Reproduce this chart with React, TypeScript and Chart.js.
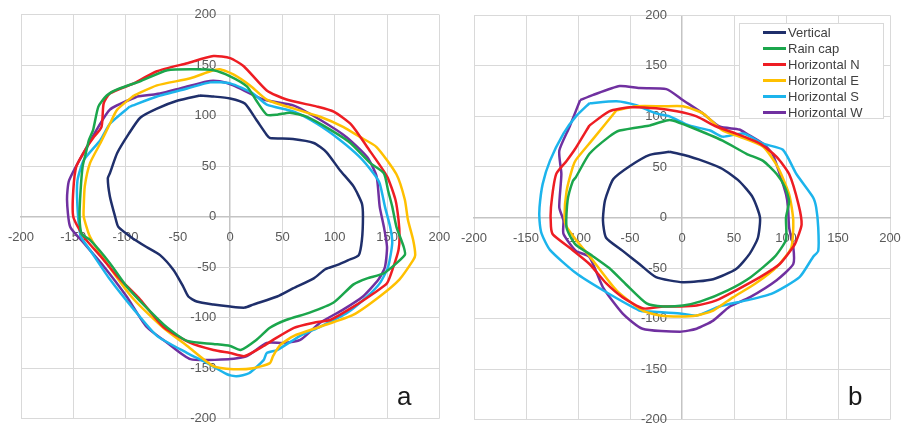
import React, { useEffect, useRef } from 'react';
import { Chart, registerables } from 'chart.js';

Chart.register(...registerables);

const seriesNames = ['Vertical', 'Rain cap', 'Horizontal N', 'Horizontal E', 'Horizontal S', 'Horizontal W'];
const seriesColors = ['#1f2f6b', '#1ba64c', '#ee1d23', '#ffc000', '#1cb4ec', '#7030a0'];

const axisMin = -200;
const axisMax = 200;
const axisStep = 50;

// Panel a
const aVertical = [[-29,120],[-16,119],[0,117],[14,112],[25,96],[35,81],[38,78],[60,77],[80,73],[92,64],[105,46],[118,30],[126,13],[127,0],[126,-23],[123,-38],[113,-43],[102,-48],[91,-52],[80,-61],[60,-71],[45,-79],[22,-87],[14,-90],[0,-89],[-16,-87],[-32,-84],[-40,-79],[-45,-69],[-54,-53],[-67,-38],[-80,-30],[-95,-20],[-107,-10],[-110,0],[-115,20],[-117,38],[-115,43],[-108,63],[-97,82],[-86,98],[-70,107],[-50,115]];
const aRainCap = [[-86,134],[-60,145],[-35,146],[-16,145],[0,139],[16,129],[25,115],[35,101],[45,101],[57,103],[73,99],[96,86],[115,73],[134,53],[147,43],[151,26],[155,10],[159,-10],[166,-30],[167,-38],[147,-56],[131,-61],[118,-67],[99,-85],[76,-95],[54,-102],[38,-110],[25,-122],[10,-132],[0,-128],[-16,-126],[-41,-123],[-60,-110],[-80,-90],[-99,-69],[-115,-46],[-134,-23],[-142,-17],[-144,0],[-143,26],[-141,50],[-138,63],[-135,76],[-131,86],[-126,109],[-118,120],[-108,126]];
const aHorizN = [[-92,132],[-70,144],[-41,152],[-16,159],[0,157],[13,149],[35,125],[54,116],[83,109],[99,104],[116,91],[131,69],[150,40],[158,17],[161,-3],[162,-20],[161,-33],[156,-50],[150,-66],[137,-76],[118,-89],[96,-102],[80,-105],[61,-110],[41,-122],[32,-128],[14,-138],[0,-135],[-16,-132],[-38,-125],[-64,-109],[-86,-82],[-108,-59],[-124,-39],[-140,-20],[-150,0],[-150,26],[-147,50],[-137,69],[-131,78],[-123,89],[-121,112],[-115,122]];
const aHorizE = [[-92,120],[-70,130],[-38,137],[-19,144],[-10,146],[3,141],[19,130],[35,116],[61,107],[86,99],[108,89],[124,79],[140,69],[159,42],[167,17],[170,-3],[175,-23],[177,-38],[175,-43],[162,-62],[143,-79],[118,-97],[86,-109],[61,-118],[48,-127],[41,-138],[38,-145],[22,-150],[3,-151],[-16,-148],[-41,-128],[-64,-110],[-92,-82],[-118,-46],[-134,-20],[-140,0],[-140,10],[-139,30],[-134,53],[-124,73],[-115,92],[-108,106]];
const aHorizS = [[-96,109],[-70,119],[-41,127],[-19,133],[0,132],[22,122],[35,111],[61,104],[83,92],[105,76],[124,59],[137,43],[143,33],[148,10],[153,-10],[155,-26],[151,-50],[143,-66],[131,-79],[112,-95],[86,-109],[67,-118],[45,-132],[35,-135],[32,-142],[18,-155],[6,-158],[-3,-156],[-22,-145],[-41,-135],[-70,-118],[-92,-92],[-115,-62],[-134,-33],[-143,-19],[-146,10],[-146,36],[-140,56],[-124,76],[-115,92]];
const aHorizW = [[-89,119],[-67,122],[-48,127],[-22,134],[-10,134],[3,130],[32,116],[61,110],[86,96],[111,79],[131,59],[140,40],[143,10],[147,-10],[150,-30],[148,-50],[142,-62],[127,-79],[108,-92],[86,-105],[67,-122],[51,-125],[35,-125],[16,-138],[0,-141],[-38,-141],[-60,-125],[-80,-109],[-99,-79],[-121,-49],[-140,-26],[-153,-10],[-156,17],[-154,36],[-137,69],[-115,106]];

// Panel b
const bVertical = [[-12,65],[1,62],[20,56],[39,48],[55,36],[68,20],[75,0],[73,-20],[65,-36],[52,-51],[30,-61],[1,-64],[-25,-59],[-41,-46],[-57,-33],[-73,-20],[-76,-3],[-74,17],[-66,38],[-50,51],[-31,62]];
const bRainCap = [[-31,91],[-15,96],[-9,96],[7,90],[39,76],[62,63],[78,56],[91,43],[99,30],[103,16],[100,0],[100,-22],[89,-39],[66,-59],[44,-72],[18,-83],[1,-87],[-18,-88],[-34,-85],[-54,-66],[-70,-50],[-86,-38],[-103,-26],[-111,-10],[-110,17],[-105,36],[-102,40],[-89,63],[-70,80],[-60,86]];
const bHorizN = [[-89,91],[-70,105],[-50,109],[-25,108],[-5,105],[14,100],[33,90],[52,83],[75,73],[91,60],[103,43],[112,13],[115,-7],[110,-23],[107,-29],[94,-46],[75,-59],[52,-72],[33,-82],[14,-87],[-2,-88],[-18,-88],[-37,-90],[-57,-79],[-73,-65],[-89,-46],[-108,-30],[-124,-17],[-126,-9],[-126,10],[-121,43],[-111,56],[-102,69]];
const bHorizE = [[-63,106],[-44,110],[-18,110],[1,110],[20,103],[39,86],[55,80],[78,70],[92,50],[103,23],[107,-3],[105,-30],[91,-49],[71,-65],[49,-79],[30,-92],[14,-97],[-2,-98],[-21,-97],[-38,-92],[-63,-72],[-86,-42],[-102,-22],[-111,-9],[-113,0],[-111,26],[-105,50],[-102,57],[-86,77]];
const bHorizS = [[-89,113],[-63,115],[-44,111],[-25,103],[-12,100],[7,91],[27,86],[39,80],[59,83],[78,73],[97,67],[110,43],[126,20],[129,10],[131,-10],[131,-33],[126,-39],[113,-59],[87,-75],[62,-82],[36,-88],[14,-97],[-2,-95],[-31,-93],[-41,-92],[-76,-72],[-102,-55],[-127,-32],[-135,-16],[-137,-3],[-137,10],[-134,33],[-127,56],[-114,83],[-102,100]];
const bHorizW = [[-98,116],[-86,121],[-60,130],[-41,128],[-15,127],[1,116],[20,103],[36,90],[55,87],[62,83],[78,73],[87,63],[94,43],[100,23],[102,10],[103,-10],[107,-29],[107,-46],[91,-62],[65,-79],[46,-88],[30,-102],[14,-110],[-2,-113],[-38,-110],[-57,-95],[-76,-69],[-89,-39],[-102,-33],[-114,-16],[-114,-3],[-118,10],[-116,43],[-118,66],[-108,90]];

const panelA = [aVertical, aRainCap, aHorizN, aHorizE, aHorizS, aHorizW];
const panelB = [bVertical, bRainCap, bHorizN, bHorizE, bHorizS, bHorizW];

const tickFont = { family: '"Liberation Sans", Arial, sans-serif', size: 13 };
const gridColor = '#d9d9d9';
const zeroColor = '#c4c4c4';

function noPadding(scale: any) {
  scale.paddingLeft = 0;
  scale.paddingRight = 0;
  scale.paddingTop = 0;
  scale.paddingBottom = 0;
}

function Panel(props: { series: number[][][]; width: number; padding: any; left: number; labelGap: number }) {
  const ref = useRef<HTMLCanvasElement | null>(null);
  useEffect(() => {
    if (!ref.current) return;
    const datasets = props.series.map((pts, i) => {
      const closed = pts.concat([pts[0]]);
      return {
        label: seriesNames[i],
        data: closed.map(([x, y]) => ({ x, y })),
        showLine: true,
        borderColor: seriesColors[i],
        backgroundColor: seriesColors[i],
        borderWidth: 2.5,
        pointRadius: 0,
        tension: 0.2,
        fill: false,
      };
    });
    const areaWidth = props.width - props.padding.left - props.padding.right;
    const gapUnits = (props.labelGap * (axisMax - axisMin)) / areaWidth;
    const chart = new Chart(ref.current, {
      type: 'scatter',
      data: { datasets },
      options: {
        responsive: false,
        animation: false,
        devicePixelRatio: 1,
        layout: { padding: props.padding, autoPadding: false },
        plugins: { legend: { display: false }, tooltip: { enabled: false } },
        scales: {
          x: {
            type: 'linear',
            min: axisMin,
            max: axisMax,
            position: { y: 0 },
            ticks: { stepSize: axisStep, autoSkip: false, color: '#595959', font: tickFont, padding: 13, maxRotation: 0 },
            grid: {
              color: (c: any) => (c.tick && c.tick.value === 0 ? zeroColor : gridColor),
              lineWidth: (c: any) => (c.tick && c.tick.value === 0 ? 1.5 : 1),
              drawTicks: false,
            },
            border: { color: zeroColor, width: 1.5 },
            afterFit: noPadding,
          },
          y: {
            type: 'linear',
            min: axisMin,
            max: axisMax,
            position: { x: -gapUnits },
            ticks: { stepSize: axisStep, autoSkip: false, color: '#595959', font: tickFont, padding: 0 },
            grid: { color: gridColor, lineWidth: 1, drawTicks: false },
            border: { display: false },
            afterFit: noPadding,
          },
        },
      } as any,
    });
    return () => chart.destroy();
  }, []);
  return (
    <canvas
      ref={ref}
      width={props.width}
      height={426}
      style={{ position: 'absolute', left: props.left, top: 0, width: props.width, height: 426 }}
    />
  );
}

export default function App() {
  return (
    <div style={{ position: 'absolute', left: 0, top: 0, width: 902, height: 426, background: '#fff', overflow: 'hidden' }}>
      <Panel series={panelA} width={450} left={0} labelGap={14} padding={{ left: 21, right: 10.7, top: 14.7, bottom: 7.3 }} />
      <Panel series={panelB} width={452} left={450} labelGap={15} padding={{ left: 24, right: 12, top: 15.3, bottom: 6.3 }} />
      <div style={{ position: 'absolute', left: 739, top: 23, width: 145, height: 96, border: '1px solid #d9d9d9', background: '#fff', boxSizing: 'border-box', fontFamily: '"Liberation Sans", Arial, sans-serif', fontSize: 13, color: '#404040' }}>
        {seriesNames.map((n, i) => (
          <div key={n} style={{ position: 'absolute', left: 0, top: 0.5 + i * 16, height: 16, display: 'flex', alignItems: 'center', whiteSpace: 'nowrap' }}>
            <span style={{ display: 'inline-block', marginLeft: 23, width: 23, height: 3, background: seriesColors[i] }} />
            <span style={{ marginLeft: 2 }}>{n}</span>
          </div>
        ))}
      </div>
      <div style={{ position: 'absolute', left: 397, top: 381, fontFamily: '"Liberation Sans", Arial, sans-serif', fontSize: 26, color: '#1a1a1a' }}>a</div>
      <div style={{ position: 'absolute', left: 848, top: 381, fontFamily: '"Liberation Sans", Arial, sans-serif', fontSize: 26, color: '#1a1a1a' }}>b</div>
    </div>
  );
}
